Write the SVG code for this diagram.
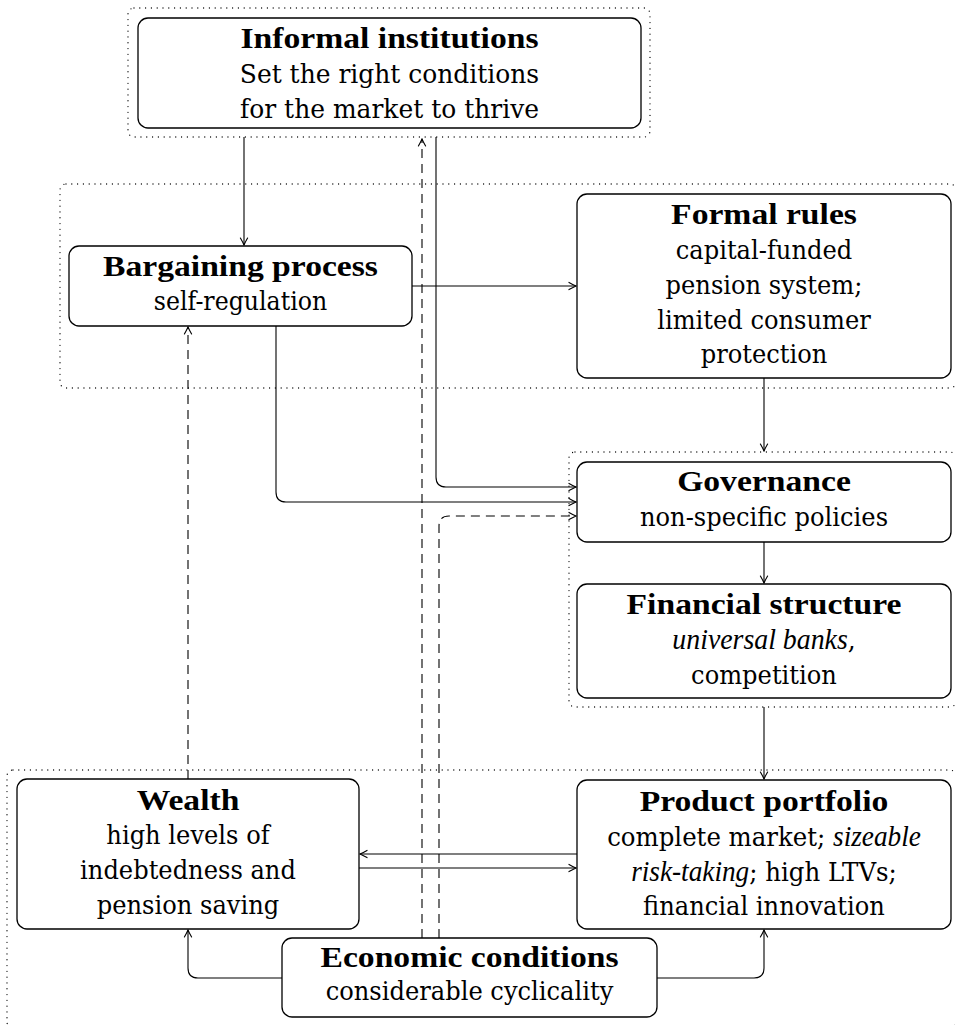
<svg xmlns="http://www.w3.org/2000/svg" width="955" height="1026" viewBox="0 0 955 1026">
<defs>
<marker id="ah" markerUnits="userSpaceOnUse" viewBox="-9 -5 10 10" markerWidth="10" markerHeight="10" refX="0" refY="0" orient="auto">
<path d="M-7,-3.6 Q-2.5,-1 0,0 Q-2.5,1 -7,3.6" fill="none" stroke="#000" stroke-width="1.1" stroke-linecap="round"/>
</marker>
<style>
.grp{fill:none;stroke:#000;stroke-width:1.3;stroke-dasharray:0 5.8;stroke-linecap:round;}
.box{fill:#fff;stroke:#000;stroke-width:1.3;}
.c{fill:none;stroke:#000;stroke-width:1.1;marker-end:url(#ah);}
.d{stroke-dasharray:9 6;}
text{font-family:"DejaVu Serif",serif;font-size:26px;font-weight:normal;text-anchor:middle;fill:#000;}
text.b{font-family:"Liberation Serif",serif;font-size:29px;font-weight:bold;}
.i{font-family:"Liberation Serif",serif;font-size:29px;font-style:italic;}
</style>
</defs>
<rect width="955" height="1026" fill="#fff"/>
<g id="groups">
<rect class="grp" x="128" y="8" width="522" height="129" rx="6"/>
<rect class="grp" x="60" y="184" width="896" height="204" rx="6"/>
<rect class="grp" x="569" y="452" width="387" height="255" rx="6"/>
<rect class="grp" x="7" y="770" width="949" height="258" rx="6"/>
</g>
<g id="informal">
<rect class="box" x="138" y="18" width="503" height="110" rx="10"/>
<text class="b" transform="translate(389.5,48) scale(1.16,1)">Informal institutions</text>
<text transform="translate(389.5,83) scale(0.96,1)">Set the right conditions</text>
<text transform="translate(389.5,118) scale(0.96,1)">for the market to thrive</text>
</g>
<g id="bargaining">
<rect class="box" x="69" y="246" width="343" height="80" rx="10"/>
<text class="b" transform="translate(240.5,276) scale(1.16,1)">Bargaining process</text>
<text transform="translate(240.5,310) scale(0.91,1)">self-regulation</text>
</g>
<g id="formal">
<rect class="box" x="577" y="194" width="374" height="184" rx="10"/>
<text class="b" transform="translate(764,224) scale(1.16,1)">Formal rules</text>
<text transform="translate(764,259) scale(0.93,1)">capital-funded</text>
<text transform="translate(764,294) scale(0.93,1)">pension system;</text>
<text transform="translate(764,329) scale(0.93,1)">limited consumer</text>
<text transform="translate(764,363) scale(0.93,1)">protection</text>
</g>
<g id="governance">
<rect class="box" x="577" y="462" width="374" height="80" rx="10"/>
<text class="b" transform="translate(764,491) scale(1.16,1)">Governance</text>
<text transform="translate(764,526) scale(0.93,1)">non-specific policies</text>
</g>
<g id="financial">
<rect class="box" x="577" y="584" width="374" height="114" rx="10"/>
<text class="b" transform="translate(764,614) scale(1.16,1)">Financial structure</text>
<text transform="translate(764,649) scale(0.96,1)"><tspan class="i">universal banks</tspan>,</text>
<text transform="translate(764,684) scale(0.93,1)">competition</text>
</g>
<g id="wealth">
<rect class="box" x="17" y="779" width="342" height="150" rx="10"/>
<text class="b" transform="translate(188,810) scale(1.16,1)">Wealth</text>
<text transform="translate(188,844) scale(0.93,1)">high levels of</text>
<text transform="translate(188,879) scale(0.93,1)">indebtedness and</text>
<text transform="translate(188,914) scale(0.93,1)">pension saving</text>
</g>
<g id="product">
<rect class="box" x="577" y="780" width="374" height="149" rx="10"/>
<text class="b" transform="translate(764,811) scale(1.16,1)">Product portfolio</text>
<text transform="translate(764,846) scale(0.94,1)">complete market; <tspan class="i">sizeable</tspan></text>
<text transform="translate(764,881) scale(0.94,1)"><tspan class="i">risk-taking</tspan>; high LTVs;</text>
<text transform="translate(764,915) scale(0.93,1)">financial innovation</text>
</g>
<g id="economic">
<rect class="box" x="282" y="938" width="375" height="79" rx="10"/>
<text class="b" transform="translate(469.5,967) scale(1.16,1)">Economic conditions</text>
<text transform="translate(469.5,1000) scale(0.93,1)">considerable cyclicality</text>
</g>
<g id="connectors">
<path class="c" d="M244,137 V245"/>
<path class="c" d="M436,137 V477 Q436,487 446,487 H576"/>
<path class="c" d="M412,286 H576"/>
<path class="c" d="M276,326 V492 Q276,502 286,502 H576"/>
<path class="c" d="M764,378 V451"/>
<path class="c" d="M764,542 V583"/>
<path class="c" d="M764,707 V779"/>
<path class="c" d="M577,854 H360"/>
<path class="c" d="M359,868 H576"/>
<path class="c" d="M282,978 H198 Q188,978 188,968 V930"/>
<path class="c" d="M657,978 H754 Q764,978 764,968 V930"/>
<path class="c d" d="M188,779 V327"/>
<path class="c d" d="M422,938 V139"/>
<path class="c d" d="M439,938 V526 Q439,516 449,516 H576"/>
</g>
</svg>
